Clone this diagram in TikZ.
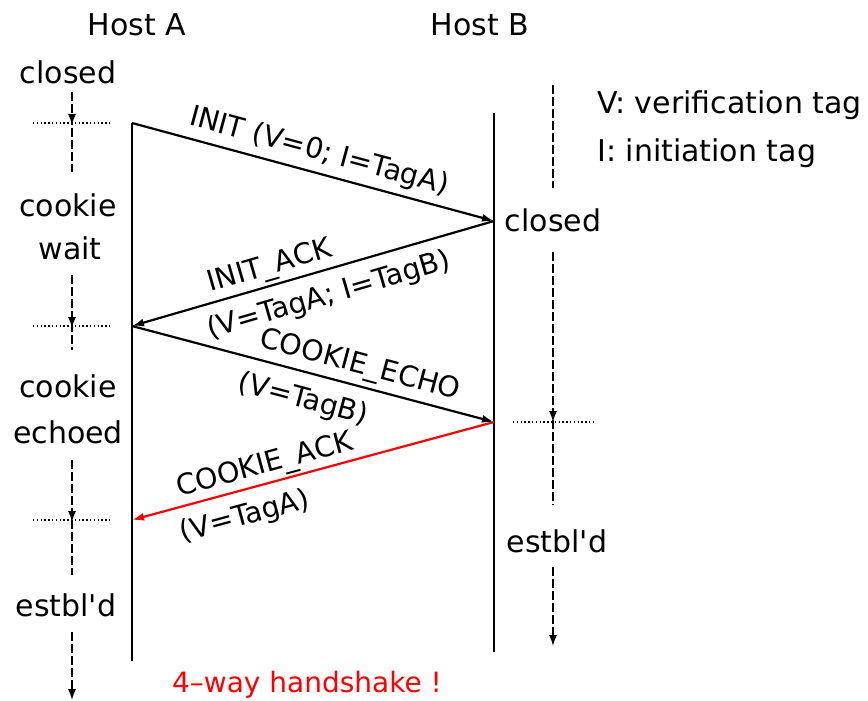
\documentclass[tikz,border=0pt]{standalone}
\usepackage{fontspec}
\setmainfont{DejaVu Sans}[Ligatures=TeXOff]
\usetikzlibrary{arrows.meta}

\begin{document}
\begin{tikzpicture}[x=1pt,y=-1pt,
  lbl/.style={font=\fontsize{30}{34}\selectfont, inner sep=0pt},
  msglbl/.style={font=\fontsize{28.5}{32}\selectfont, inner sep=0pt},
  host/.style={line width=1.8pt},
  msg/.style={line width=2.2pt, -{Latex[length=12pt,width=8pt]}},
  statepath/.style={line width=1.4pt, dash pattern=on 9pt off 3pt},
  downtip/.style={-{Latex[length=11pt,width=8pt]}},
  sync/.style={line width=2.4pt, dash pattern=on 1.4pt off 2.4pt}
]
\useasboundingbox (0,0) rectangle (868,701);

% host headings
\node[lbl] (hA) at (137,25) {Host A};
\node[lbl] (hB) at (480,25) {Host B};

% time lines of both hosts
\coordinate (Atop) at (132,123); \coordinate (Abot) at (132,661);
\coordinate (Btop) at (494,113); \coordinate (Bbot) at (494,652);
\draw[host] (Atop) -- (Abot);
\draw[host] (Btop) -- (Bbot);

% message events
\coordinate (A1) at (132,123);
\coordinate (B1) at (494,221);
\coordinate (A2) at (132,326);
\coordinate (B2) at (494,422);
\coordinate (A3) at (132,520);

\draw[msg] (A1) -- (B1);
\draw[msg] (B1) -- (A2);
\draw[msg] (A2) -- (B2);
\draw[msg, red] (B2) -- (A3);

% message labels
\node[msglbl, rotate=-15.1] (m1) at (319,152) {INIT (V=0; I=TagA)};
\node[msglbl, rotate=16.2]  (m2a) at (270,267) {INIT\_ACK};
\node[msglbl, rotate=16.2]  (m2b) at (329,296) {(V=TagA; I=TagB)};
\node[msglbl, rotate=-14.9] (m3a) at (360,366) {COOKIE\_ECHO};
\node[msglbl, rotate=-14.9] (m3b) at (303,400) {(V=TagB)};
\node[msglbl, rotate=15.1]  (m4a) at (265,466) {COOKIE\_ACK};
\node[msglbl, rotate=15.1]  (m4b) at (245,517) {(V=TagA)};

% states of host A
\node[lbl] (sA1) at (68,72) {closed};
\node[lbl] (sA2) at (68,205) {cookie};
\node[lbl] (sA2b) at (70,248) {wait};
\node[lbl] (sA3) at (68,386) {cookie};
\node[lbl] (sA3b) at (68,432) {echoed};
\node[lbl] (sA4) at (66,605) {estbl'd};

\coordinate (pa1) at (72,92);  \coordinate (pa1t) at (72,125); \coordinate (pa1e) at (72,172);
\coordinate (pa2) at (72,275); \coordinate (pa2t) at (72,328); \coordinate (pa2e) at (72,350);
\coordinate (pa3) at (72,460); \coordinate (pa3t) at (72,522); \coordinate (pa3e) at (72,575);
\coordinate (pa4) at (72,632); \coordinate (pa4e) at (72,700);

\draw[statepath] (pa1) -- (pa1e);
\draw[statepath, downtip] (pa1) -- (pa1t);
\draw[statepath] (pa2) -- (pa2e);
\draw[statepath, downtip] (pa2) -- (pa2t);
\draw[statepath] (pa3) -- (pa3e);
\draw[statepath, downtip] (pa3) -- (pa3t);
\draw[statepath, downtip] (pa4) -- (pa4e);

% synchronisation marks of host A
\coordinate (da1) at (33,123); \coordinate (da1e) at (112,123);
\coordinate (da2) at (33,326); \coordinate (da2e) at (112,326);
\coordinate (da3) at (33,520); \coordinate (da3e) at (112,520);
\draw[sync] (da1) -- (da1e);
\draw[sync] (da2) -- (da2e);
\draw[sync] (da3) -- (da3e);

% states of host B
\node[lbl] (sB1) at (553,220) {closed};
\node[lbl] (sB2) at (557,541) {estbl'd};

\coordinate (pb1) at (553,85);  \coordinate (pb1e) at (553,188);
\coordinate (pb2) at (553,252); \coordinate (pb2t) at (553,422); \coordinate (pb2e) at (553,505);
\coordinate (pb3) at (553,567); \coordinate (pb3e) at (553,646);

\draw[statepath] (pb1) -- (pb1e);
\draw[statepath] (pb2) -- (pb2e);
\draw[statepath, downtip] (pb2) -- (pb2t);
\draw[statepath, downtip] (pb3) -- (pb3e);

\coordinate (db1) at (513,422); \coordinate (db1e) at (593,422);
\draw[sync] (db1) -- (db1e);

% legend
\node[lbl, anchor=west] (lgV) at (597,105) {V: verification tag};
\node[lbl, anchor=west] (lgI) at (597,153) {I: initiation tag};

% caption
\node[lbl, red, font=\fontsize{28}{32}\selectfont] (cap) at (307,685) {4–way handshake !};
\end{tikzpicture}
\end{document}
